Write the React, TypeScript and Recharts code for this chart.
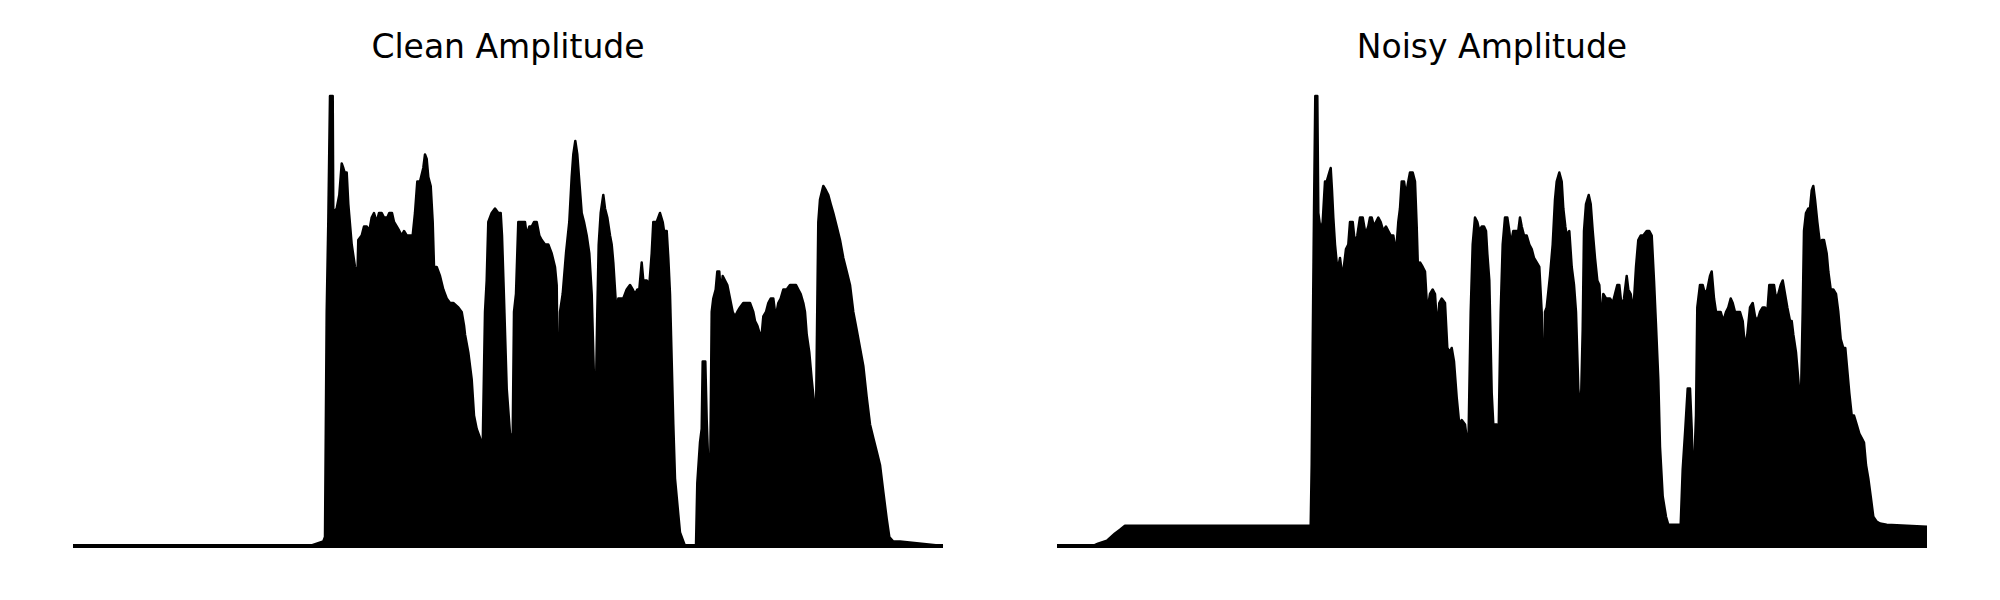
import { AreaChart, Area, XAxis, YAxis, ReferenceLine } from 'recharts';

// [frame, amplitude] pairs
const cleanPoints: [number, number][] = [
    [0, 0], [237, 0], [250.3, 0.01], [252, 0.02], [253.7, 0.52], [255.3, 0.72], [257, 1.0], [259.7, 1.0],
    [260.3, 0.74], [263.7, 0.75], [266.3, 0.78], [268.7, 0.85], [270.3, 0.84], [271.7, 0.83], [273.7, 0.83],
    [275.3, 0.76], [278.7, 0.67], [282, 0.62], [284.3, 0.59], [285.3, 0.68], [288.7, 0.69], [291, 0.71],
    [293.7, 0.71], [296.3, 0.7], [298.7, 0.73], [301, 0.74], [303.7, 0.72], [306, 0.74], [308.7, 0.74],
    [311, 0.73], [314.3, 0.73], [316.3, 0.74], [319, 0.74], [321, 0.72], [323.7, 0.71], [326.3, 0.7],
    [328.7, 0.69], [331, 0.7], [333.7, 0.69], [337, 0.69], [339.7, 0.69], [342, 0.74], [344.3, 0.81],
    [347, 0.81], [350.3, 0.84], [352, 0.87], [353.7, 0.86], [355.3, 0.82], [357.7, 0.8], [359.7, 0.72],
    [361, 0.62], [363.7, 0.62], [367, 0.6], [370.3, 0.57], [373.7, 0.55], [377, 0.54], [380.3, 0.54],
    [385.3, 0.53], [388.7, 0.52], [391, 0.49], [392, 0.47], [395.3, 0.43], [398.7, 0.37], [401, 0.29],
    [403.7, 0.26], [407, 0.24], [409.7, 0.22], [412, 0.52], [413.7, 0.59], [415.3, 0.72], [418.7, 0.74],
    [422, 0.75], [425.3, 0.74], [427.7, 0.74], [429, 0.69], [431, 0.55], [433.7, 0.35], [437, 0.25],
    [439.7, 0.24], [441, 0.52], [443, 0.56], [445.3, 0.72], [448.7, 0.72], [452, 0.72], [453.7, 0.69],
    [456.3, 0.71], [458.7, 0.71], [461, 0.72], [463.7, 0.72], [466.3, 0.69], [468.7, 0.68], [472, 0.67],
    [475.3, 0.67], [478.7, 0.65], [482, 0.62], [483.7, 0.58], [485.3, 0.25], [487, 0.52], [489.7, 0.56],
    [493, 0.65], [496.3, 0.72], [498.7, 0.82], [500.3, 0.87], [502.3, 0.9], [504.3, 0.87], [506.3, 0.81],
    [508.7, 0.74], [511, 0.72], [513.7, 0.69], [516.3, 0.65], [518.7, 0.56], [521, 0.37], [522.3, 0.26],
    [524.3, 0.52], [525.7, 0.67], [527.7, 0.74], [530.3, 0.78], [532, 0.75], [534.3, 0.73], [537, 0.69],
    [538.7, 0.67], [540.3, 0.63], [542, 0.57], [543.7, 0.51], [545.3, 0.55], [550.3, 0.55], [553.7, 0.57],
    [557, 0.58], [559.7, 0.57], [562, 0.56], [564.3, 0.57], [566.3, 0.57], [568.7, 0.63], [570.3, 0.59],
    [572, 0.59], [573.7, 0.59], [576.3, 0.58], [578.7, 0.65], [580.3, 0.72], [583.7, 0.72], [587, 0.74],
    [589.7, 0.72], [591, 0.7], [593.7, 0.7], [595.3, 0.64], [597, 0.56], [598.7, 0.41], [600.3, 0.27],
    [602, 0.15], [605.3, 0.07], [607, 0.03], [610.3, 0.01], [612, 0], [623, 0], [624.3, 0.14], [627, 0.23],
    [628.7, 0.26], [629.7, 0.41], [632.3, 0.41], [633.7, 0.28], [635.3, 0.18], [637, 0.11], [638.7, 0.52],
    [640.3, 0.55], [642.7, 0.57], [644.3, 0.61], [646.3, 0.61], [647.7, 0.56], [649.7, 0.6], [652, 0.59],
    [654.3, 0.58], [657, 0.55], [659.7, 0.52], [662, 0.51], [664.3, 0.52], [667, 0.53], [670.3, 0.54],
    [673.7, 0.54], [677, 0.54], [680.3, 0.52], [682, 0.5], [684.3, 0.49], [687, 0.47], [688.7, 0.47],
    [690.3, 0.51], [693, 0.52], [695.3, 0.54], [697.7, 0.55], [700.3, 0.55], [702, 0.52], [703.7, 0.52],
    [705.3, 0.54], [707.7, 0.55], [710.3, 0.57], [713.7, 0.57], [717, 0.58], [720.3, 0.58], [723, 0.58],
    [725.3, 0.57], [727.7, 0.56], [730.3, 0.54], [732, 0.52], [733.7, 0.47], [736.3, 0.43], [738.7, 0.37],
    [741, 0.32], [743, 0.29], [745.3, 0.72], [747, 0.77], [750.3, 0.8], [753, 0.79], [755.3, 0.78],
    [757.7, 0.76], [760.3, 0.74], [763.7, 0.71], [767, 0.68], [770.3, 0.64], [773.7, 0.61], [777, 0.58],
    [780.3, 0.52], [783.7, 0.48], [787, 0.44], [790.3, 0.4], [793.7, 0.33], [797, 0.27], [800.3, 0.24],
    [803.7, 0.21], [807, 0.18], [810.3, 0.12], [813.7, 0.06], [816.3, 0.02], [820.3, 0.01], [827, 0.01],
    [870, 0],
];

const noisyPoints: [number, number][] = [
    [0, 0], [36, 0], [41, 0.005], [50, 0.012], [58, 0.028], [63, 0.036], [68, 0.045], [253.7, 0.045],
    [254.7, 0.18], [255.7, 0.44], [257, 0.74], [258.3, 1.0], [260.3, 1.0], [261.3, 0.74], [263.7, 0.7],
    [265.7, 0.72], [268, 0.81], [269.7, 0.81], [272.3, 0.83], [273.7, 0.84], [275, 0.79], [276.3, 0.73],
    [278, 0.67], [279.7, 0.63], [281.3, 0.62], [283, 0.64], [284.7, 0.61], [286.3, 0.61], [289, 0.66],
    [291.3, 0.67], [293, 0.72], [295.7, 0.72], [298, 0.67], [300.3, 0.69], [303, 0.73], [305.7, 0.73],
    [308, 0.7], [309.7, 0.7], [311.3, 0.71], [313, 0.73], [314.7, 0.73], [317, 0.71], [319, 0.72],
    [321.3, 0.73], [323.7, 0.72], [326.3, 0.7], [329, 0.71], [331.3, 0.7], [333.7, 0.69], [336.3, 0.69],
    [339, 0.65], [341.3, 0.72], [343, 0.75], [344.7, 0.81], [347, 0.81], [349, 0.78], [351.3, 0.81],
    [353, 0.83], [355.7, 0.83], [358, 0.81], [359.7, 0.71], [361.3, 0.59], [363, 0.63], [365.7, 0.62],
    [368, 0.61], [370.3, 0.52], [373, 0.56], [375.7, 0.57], [378, 0.56], [380.3, 0.48], [382.3, 0.54],
    [384.7, 0.55], [388, 0.54], [390.3, 0.44], [393, 0.43], [394.7, 0.44], [397, 0.41], [399.7, 0.33],
    [402.3, 0.27], [404.7, 0.28], [408, 0.27], [411.3, 0.21], [413.7, 0.52], [415.7, 0.67], [418, 0.73],
    [420.3, 0.72], [422.3, 0.7], [424.7, 0.71], [427, 0.71], [429, 0.7], [430.3, 0.65], [432.3, 0.59],
    [434.7, 0.34], [436.3, 0.27], [439.7, 0.27], [441.3, 0.21], [443.7, 0.52], [445.7, 0.67], [448, 0.73],
    [450.3, 0.73], [452.3, 0.7], [453.7, 0.67], [456.3, 0.7], [459, 0.7], [461.3, 0.7], [463, 0.73],
    [464.7, 0.71], [467, 0.69], [469.7, 0.69], [472.3, 0.67], [474.7, 0.66], [477, 0.64], [479.7, 0.63],
    [482.3, 0.62], [484.7, 0.52], [486.3, 0.28], [488, 0.52], [489.7, 0.53], [493, 0.6], [495.7, 0.67],
    [498, 0.77], [499.7, 0.81], [502.3, 0.83], [504.7, 0.81], [506.3, 0.75], [508.3, 0.71], [509.7, 0.69],
    [512.3, 0.7], [514.7, 0.62], [517, 0.58], [519, 0.52], [521.3, 0.35], [523.7, 0.29], [525.7, 0.48],
    [527, 0.7], [529, 0.76], [531.7, 0.78], [533.7, 0.76], [535.7, 0.7], [538, 0.64], [540.3, 0.59],
    [542.3, 0.58], [544.7, 0.49], [546.3, 0.56], [549, 0.55], [551.3, 0.55], [553, 0.55], [555.7, 0.54],
    [558, 0.56], [560.3, 0.58], [562.3, 0.58], [564.7, 0.53], [567, 0.55], [569.7, 0.6], [571.3, 0.57],
    [573.7, 0.56], [576.3, 0.52], [579, 0.62], [581.3, 0.68], [583.7, 0.69], [586.3, 0.69], [589.7, 0.7],
    [592.3, 0.7], [594.7, 0.69], [597, 0.59], [599, 0.49], [601.3, 0.37], [603, 0.22], [605.7, 0.11],
    [609, 0.065], [611.3, 0.047], [623.7, 0.047], [625.7, 0.17], [628.3, 0.26], [630.7, 0.35], [633, 0.35],
    [634.7, 0.26], [636.3, 0.12], [639, 0.29], [640.3, 0.53], [643, 0.58], [645.7, 0.58], [648, 0.56],
    [650.3, 0.57], [653, 0.6], [654.7, 0.61], [657, 0.55], [659, 0.52], [661.3, 0.52], [663.7, 0.52],
    [666.3, 0.5], [669, 0.52], [671.3, 0.53], [673.7, 0.55], [675.7, 0.54], [678, 0.52], [680.3, 0.52],
    [683, 0.52], [685.7, 0.5], [688, 0.44], [690.3, 0.47], [693, 0.53], [695.7, 0.54], [698, 0.51],
    [700.3, 0.5], [703, 0.52], [705.7, 0.53], [708, 0.53], [710.3, 0.52], [712.3, 0.58], [714.7, 0.58],
    [717, 0.58], [719, 0.55], [721.3, 0.56], [723.7, 0.58], [725.7, 0.59], [728, 0.56], [730.3, 0.53],
    [733, 0.5], [734.7, 0.5], [736.3, 0.47], [739, 0.43], [741.3, 0.37], [743.7, 0.3], [745.7, 0.52],
    [747, 0.7], [749, 0.74], [751.3, 0.75], [753, 0.75], [754.7, 0.79], [756.3, 0.8], [758, 0.77],
    [760.3, 0.72], [763, 0.67], [765, 0.68], [767, 0.68], [769.7, 0.65], [771.3, 0.61], [773.7, 0.57],
    [776.3, 0.57], [779, 0.56], [781.3, 0.52], [783.7, 0.46], [786.3, 0.44], [788.3, 0.44], [790.3, 0.39],
    [792.3, 0.34], [794.7, 0.29], [797, 0.29], [799.7, 0.27], [802.3, 0.25], [804.7, 0.24], [807, 0.23],
    [809, 0.18], [811.3, 0.15], [813.7, 0.11], [816.3, 0.065], [819.7, 0.054], [823, 0.05], [829.7, 0.047],
    [870, 0.043],
];

const titles = ['Clean Amplitude', 'Noisy Amplitude'];
const frameRange: [number, number] = [0, 870];

const FONT = '"DejaVu Sans", Verdana, sans-serif';
const W = 1000;
const H = 600;

function Panel({ title, points, left, right }: { title: string; points: [number, number][]; left: number; right: number }) {
    const data = points.map(([frame, amp]) => ({ frame, amp }));
    return (
        <div style={{ position: 'relative', width: W, height: H }}>
            <div
                style={{
                    position: 'absolute',
                    left,
                    width: W - left - right,
                    top: 30,
                    textAlign: 'center',
                    fontFamily: FONT,
                    fontSize: 33,
                    lineHeight: '33px',
                    color: '#000',
                }}
            >
                {title}
            </div>
            <AreaChart width={W} height={H} data={data} margin={{ top: 96, bottom: 54, left, right }}>
                <XAxis type="number" dataKey="frame" domain={frameRange} hide />
                <YAxis type="number" domain={[0, 1]} hide />
                <ReferenceLine y={0} stroke="#000" strokeWidth={4} />
                <Area
                    type="linear"
                    dataKey="amp"
                    stroke="#000"
                    strokeWidth={2.5}
                    strokeLinejoin="round"
                    fill="#000"
                    fillOpacity={1}
                    dot={false}
                    activeDot={false}
                    isAnimationActive={false}
                />
            </AreaChart>
        </div>
    );
}

export default function App() {
    return (
        <div style={{ position: 'absolute', left: 0, top: 0, width: 2000, height: 600, background: '#fff', display: 'flex' }}>
            <Panel title={titles[0]} points={cleanPoints} left={73} right={57} />
            <Panel title={titles[1]} points={noisyPoints} left={57} right={73} />
        </div>
    );
}
